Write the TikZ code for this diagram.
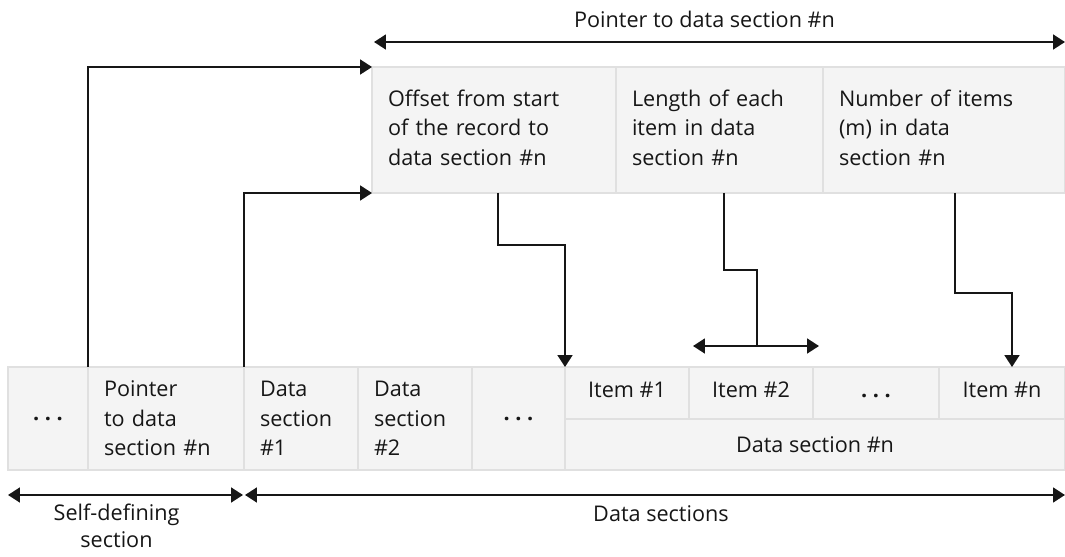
\documentclass[tikz,border=0pt]{standalone}
\usepackage{fontspec}
\setmainfont{Open Sans}
\usetikzlibrary{arrows.meta,positioning,calc}
\definecolor{cellgray}{HTML}{F4F4F4}
\definecolor{rulegray}{HTML}{E0E0E0}
\definecolor{ink}{HTML}{161616}
\newcommand{\dotrun}{\textbf{.\hspace{0.26em}.\hspace{0.26em}.}}

\begin{document}
\begin{tikzpicture}[x=0.02cm,y=-0.02cm,
    font=\fontsize{12.3}{16.7}\selectfont,text=ink,
    cell/.style={draw=rulegray,line width=0.8pt,fill=cellgray,inner sep=0pt,outer sep=0pt},
    textcell/.style={cell,align=left,inner xsep=0.32cm},
    itemcell/.style={cell,minimum height=1.04cm,text height=0.75em,text depth=0.25em},
    link/.style={draw=ink,line width=1.1pt,-{Triangle[length=6.8pt,width=8.5pt]}},
    span/.style={link,{Triangle[length=6.8pt,width=8.5pt]}-{Triangle[length=6.8pt,width=8.5pt]}}]
  \useasboundingbox (0,0) rectangle (1065,557);
  % record
  \node[cell,minimum width=1.6cm,minimum height=2.06cm] (dotsa) at (48,418.5) {\dotrun};
  \node[textcell,text width=2.48cm,minimum height=2.06cm] (ptr) at (166,418.5) {Pointer\\to data\\section \#n};
  \node[textcell,text width=1.64cm,minimum height=2.06cm] (ds1) at (301,418.5) {Data\\section\\\#1};
  \node[textcell,text width=1.64cm,minimum height=2.06cm] (ds2) at (415,418.5) {Data\\section\\\#2};
  \node[cell,minimum width=1.86cm,minimum height=2.06cm] (dotsb) at (518.5,418.5) {\dotrun};
  \foreach \n/\x/\w/\t in {item1/627/2.48/Item \#1,item2/751/2.48/Item \#2,itemd/876/2.52/\dotrun,itemn/1002/2.52/Item \#n}{
    \node[itemcell,minimum width=\w cm] (\n) at (\x,393) {\t};
  }
  \node[cell,minimum width=10cm,minimum height=1.02cm] (dsn) at (815,444.5) {Data section \#n};
  % pointer fields
  \node[textcell,text width=4.24cm,minimum height=2.52cm] (off) at (494,130) {Offset from start\\of the record to\\data section \#n\vphantom{g}};
  \node[textcell,text width=3.5cm,minimum height=2.52cm] (len) at (719.5,130) {Length of each\\item in data\\section \#n\vphantom{g}};
  \node[textcell,text width=4.2cm,minimum height=2.52cm] (num) at (944,130) {Number of items\\(m) in data\\section \#n\vphantom{g}};

  \coordinate (topl) at ($(off.north west)+(2,-25)$);
  \coordinate (topr) at ($(num.north east)+(0,-25)$);
  \coordinate (spanl) at ($(item2.north west)+(4,-21)$);
  \coordinate (spanr) at ($(item2.north east)+(6,-21)$);
  \coordinate (spanm) at ($(item2.north)+(6,-21)$);
  \coordinate (sdl) at ($(dotsa.south west)+(0,25)$);
  \coordinate (sdr) at ($(ptr.south east)+(-1,25)$);
  \coordinate (dsl) at ($(ds1.south west)+(1,25)$);
  \coordinate (dsr) at ($(dsn.south east)+(0,25)$);

  \draw[link] (ptr.north west) |- (off.north west);
  \draw[link] (ds1.north west) |- (off.south west);
  \draw[link] ([xshift=0.08cm]off.south) -- ++(0,52) -| (item1.north west);
  \draw[link,-] ([xshift=0.09cm]len.south) -- ++(0,77) -| (spanm);
  \draw[span] (spanl) -- (spanr);
  \draw[link] ([xshift=0.22cm]num.south) -- ++(0,100) -| ([xshift=0.2cm]itemn.north);

  \draw[span] (topl) -- node[above=4pt,xshift=-0.3cm] (toplbl) {Pointer to data section \#n} (topr);
  \draw[span] (sdl) -- node[below=1pt,align=center,xshift=-0.18cm,font=\fontsize{12.3}{15.8}\selectfont] (sdlbl) {Self-defining\\section} (sdr);
  \draw[span] (dsl) -- node[below=2pt,xshift=0.12cm] (dslbl) {Data sections} (dsr);
\end{tikzpicture}
\end{document}
